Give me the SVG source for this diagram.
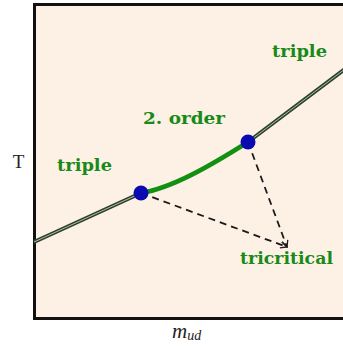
<svg xmlns="http://www.w3.org/2000/svg" width="343" height="346" viewBox="0 0 343 346">
<defs>
<style>
.lbl{font-family:"DejaVu Serif","Liberation Serif",serif;font-weight:bold;font-size:17px;fill:#178a17}
.ax{font-family:"Liberation Serif","DejaVu Serif",serif;fill:#222}
.dash{fill:none;stroke:#1a1a1a;stroke-width:1.8;stroke-dasharray:7,5}
.dot{fill:#0a0ab0}
</style>
<marker id="arr" viewBox="0 0 10 10" refX="9" refY="5" markerWidth="8" markerHeight="8" orient="auto" markerUnits="userSpaceOnUse">
<path d="M1,1 L9,5 L1,9" fill="none" stroke="#1a1a1a" stroke-width="1.6"/>
</marker>
</defs>
<rect x="34.5" y="4.5" width="312" height="314" fill="#fdf0e4" stroke="#111" stroke-width="3"/>
<g id="connectors">
<path d="M34,242 L141,193" fill="none" stroke="#2f3f2f" stroke-width="4"/>
<path d="M34,242 L141,193" fill="none" stroke="#a8c0a8" stroke-width="1"/>
<path d="M248,142 L345,69" fill="none" stroke="#2f3f2f" stroke-width="4"/>
<path d="M248,142 L345,69" fill="none" stroke="#a8c0a8" stroke-width="1"/>
<path d="M141,193 C172,188 210,166 248,142" fill="none" stroke="#129012" stroke-width="4.5"/>
<path class="dash" d="M141,193 L287,247" marker-end="url(#arr)"/>
<path class="dash" d="M248,142 L287,247" marker-end="url(#arr)"/>
</g>
<g id="tc1"><circle class="dot" cx="141" cy="193" r="7.5"/></g>
<g id="tc2"><circle class="dot" cx="248" cy="142" r="7.5"/></g>
<g id="label-triple-top"><text class="lbl" x="272" y="57" textLength="55" lengthAdjust="spacingAndGlyphs">triple</text></g>
<g id="label-order"><text class="lbl" x="143" y="124" textLength="82" lengthAdjust="spacingAndGlyphs">2.  order</text></g>
<g id="label-triple-left"><text class="lbl" x="57" y="171" textLength="55" lengthAdjust="spacingAndGlyphs">triple</text></g>
<g id="label-tricritical"><text class="lbl" x="240" y="264" textLength="93" lengthAdjust="spacingAndGlyphs">tricritical</text></g>
<g id="axis-y"><text class="ax" x="18.5" y="168" font-size="19" text-anchor="middle" fill="#333">T</text></g>
<g id="axis-x"><text class="ax" x="172" y="338" font-size="21" font-style="italic">m<tspan font-size="14" dy="2">ud</tspan></text></g>
</svg>
